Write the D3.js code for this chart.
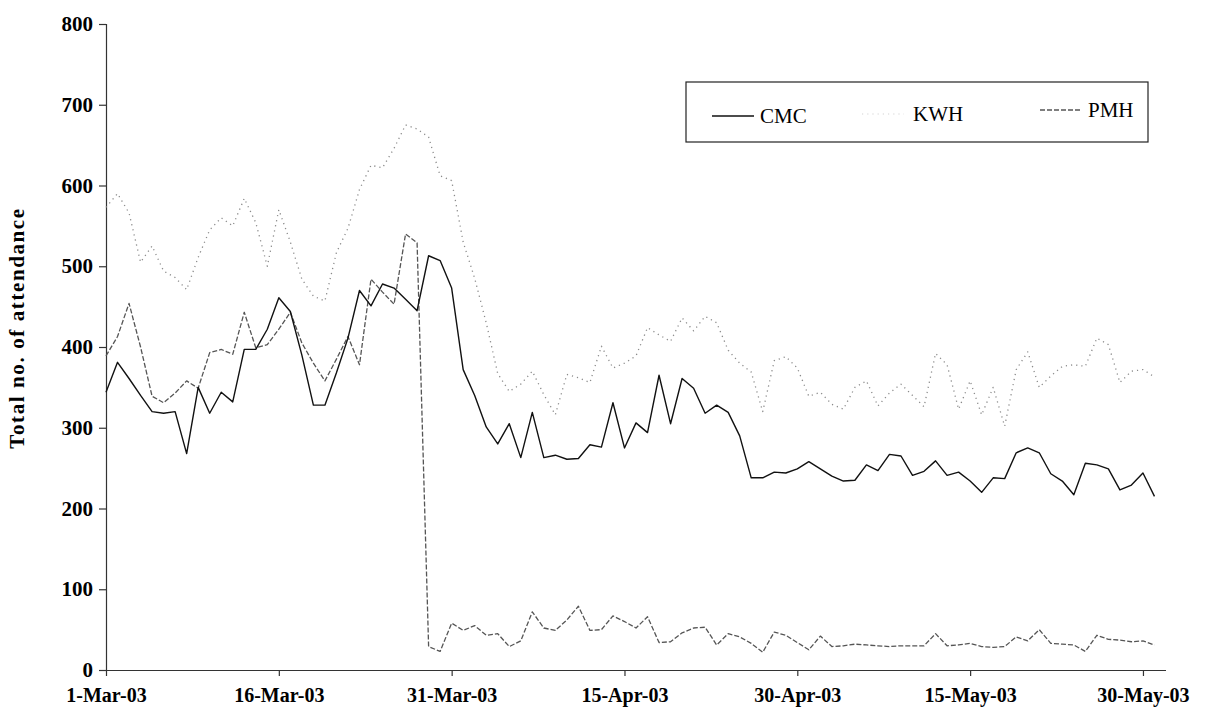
<!DOCTYPE html>
<html>
<head>
<meta charset="utf-8">
<script src="https://cdn.jsdelivr.net/npm/d3@7"></script>
<style>
  body { margin: 0; background: #fff; }
  text { font-family: "Liberation Serif", "Times New Roman", serif; }
</style>
</head>
<body>
<div id="chart"></div>
<script>
// daily attendance, 1-Mar-03 .. 31-May-03
var startDate = "2003-03-01";
var tickLabels = ["1-Mar-03", "16-Mar-03", "31-Mar-03", "15-Apr-03", "30-Apr-03", "15-May-03", "30-May-03"];
var yTicks = [0, 100, 200, 300, 400, 500, 600, 700, 800];

var cmc = [344, 381, 361, 340, 320, 318, 320, 268, 350, 318, 344, 332, 397, 397, 422, 461,
  444, 390, 328, 328, 368, 411, 470, 451, 478, 473, 459, 445, 513, 507, 473, 372,
  340, 301, 280, 305, 263, 319, 263, 266, 261, 262, 279, 276, 331, 275, 306, 294,
  365, 305, 361, 349, 318, 328, 319, 290, 238, 238, 245, 244, 249, 258, 249, 240,
  234, 235, 254, 247, 267, 265, 241, 246, 259, 241, 245, 234, 220, 238, 237, 269,
  275, 269, 243, 234, 217, 256, 254, 249, 223, 229, 244, 215];

var kwh = [573, 590, 566, 505, 525, 494, 486, 471, 511, 545, 560, 550, 584, 554, 500, 570,
  530, 484, 463, 457, 517, 547, 595, 625, 622, 646, 675, 670, 660, 612, 606, 530,
  485, 430, 367, 345, 354, 370, 341, 316, 366, 362, 356, 401, 374, 380, 389, 424,
  415, 407, 436, 420, 438, 430, 396, 380, 369, 320, 383, 388, 374, 339, 344, 329,
  323, 350, 358, 327, 343, 354, 340, 326, 392, 378, 323, 358, 316, 350, 302, 372,
  394, 350, 364, 376, 378, 376, 411, 403, 356, 370, 372, 363];

var pmh = [389, 413, 454, 400, 339, 331, 343, 358, 349, 393, 397, 391, 443, 399, 403, 422,
  443, 405, 380, 358, 385, 413, 378, 484, 468, 453, 540, 529, 29, 23, 58, 49,
  55, 43, 45, 29, 36, 72, 52, 49, 62, 79, 49, 50, 67, 60, 52, 66,
  34, 35, 46, 52, 53, 31, 45, 41, 33, 22, 47, 43, 34, 25, 42, 29,
  30, 32, 31, 30, 29, 30, 30, 30, 45, 30, 31, 33, 29, 28, 29, 41,
  36, 50, 33, 32, 31, 23, 43, 38, 37, 35, 36, 31];

var W = 1210, H = 711;
var parse = d3.timeParse("%Y-%m-%d");
var parseTick = d3.timeParse("%d-%b-%y");
var start = parse(startDate);

var svg = d3.select("#chart").append("svg")
    .attr("width", W)
    .attr("height", H)
    .style("background", "#fff");

var x = d3.scaleTime()
    .domain([start, d3.timeDay.offset(start, 92)])
    .range([106, 1166]);
var y = d3.scaleLinear().domain([0, 800]).range([670, 24]);

function toPoints(vals) {
  return vals.map(function (v, i) { return { date: d3.timeDay.offset(start, i), value: v }; });
}

// y axis
var yAxis = svg.append("g")
    .attr("transform", "translate(106,0)")
    .call(d3.axisLeft(y).tickValues(yTicks).tickSize(7).tickPadding(6).tickFormat(d3.format("d")));
yAxis.select(".domain").attr("stroke", "#333").attr("stroke-width", 1.2);
yAxis.selectAll(".tick line").attr("stroke", "#333").attr("stroke-width", 1.2);
yAxis.selectAll("text")
    .style("font-family", "'Liberation Serif', serif")
    .style("font-size", "21px")
    .style("font-weight", "bold")
    .attr("fill", "#000");

// x axis
var xAxis = svg.append("g")
    .attr("transform", "translate(0,670)")
    .call(d3.axisBottom(x)
      .tickValues(tickLabels.map(parseTick))
      .tickSize(6)
      .tickPadding(12)
      .tickFormat(function (d) { return d3.timeFormat("%-d-%b-%y")(d); }));
xAxis.select(".domain").attr("d", "M99,0.5H1166").attr("stroke", "#333").attr("stroke-width", 1.2);
xAxis.selectAll(".tick line").attr("stroke", "#333").attr("stroke-width", 1.2);
xAxis.selectAll("text")
    .style("font-family", "'Liberation Serif', serif")
    .style("font-size", "20px")
    .style("font-weight", "bold")
    .attr("fill", "#000");

// y title
svg.append("text")
    .attr("transform", "translate(24,328) rotate(-90)")
    .attr("text-anchor", "middle")
    .style("font-size", "21px")
    .style("font-weight", "bold")
    .style("letter-spacing", "1.6px")
    .text("Total no. of attendance");

var line = d3.line()
    .x(function (d) { return x(d.date); })
    .y(function (d) { return y(d.value); });

var series = [
  { name: "KWH", data: kwh, color: "#8a8a8a", width: 1.3, dash: "1.2,4" },
  { name: "PMH", data: pmh, color: "#555", width: 1.3, dash: "5,2" },
  { name: "CMC", data: cmc, color: "#111", width: 1.4, dash: null }
];

series.forEach(function (s) {
  svg.append("path")
      .datum(toPoints(s.data))
      .attr("fill", "none")
      .attr("stroke", s.color)
      .attr("stroke-width", s.width)
      .attr("stroke-dasharray", s.dash)
      .attr("stroke-linejoin", "round")
      .attr("d", line);
});

// legend
var legend = svg.append("g");
legend.append("rect")
    .attr("x", 686).attr("y", 82)
    .attr("width", 462).attr("height", 60)
    .attr("fill", "#fff")
    .attr("stroke", "#222")
    .attr("stroke-width", 1.2);

var legendItems = [
  { s: series[2], lx: 712, ly: 116, tx: 760, ty: 123 },
  { s: series[0], lx: 862, ly: 114, tx: 913, ty: 121 },
  { s: series[1], lx: 1040, ly: 110, tx: 1088, ty: 117 }
];
legendItems.forEach(function (it) {
  legend.append("line")
      .attr("x1", it.lx).attr("x2", it.lx + 42)
      .attr("y1", it.ly).attr("y2", it.ly)
      .attr("stroke", it.s.color)
      .attr("stroke-width", it.s.width)
      .attr("stroke-dasharray", it.s.dash)
      .attr("stroke-opacity", it.s.name === "KWH" ? 0.25 : 1);
  legend.append("text")
      .attr("x", it.tx).attr("y", it.ty)
      .style("font-size", "21px")
      .text(it.s.name);
});
</script>
</body>
</html>
